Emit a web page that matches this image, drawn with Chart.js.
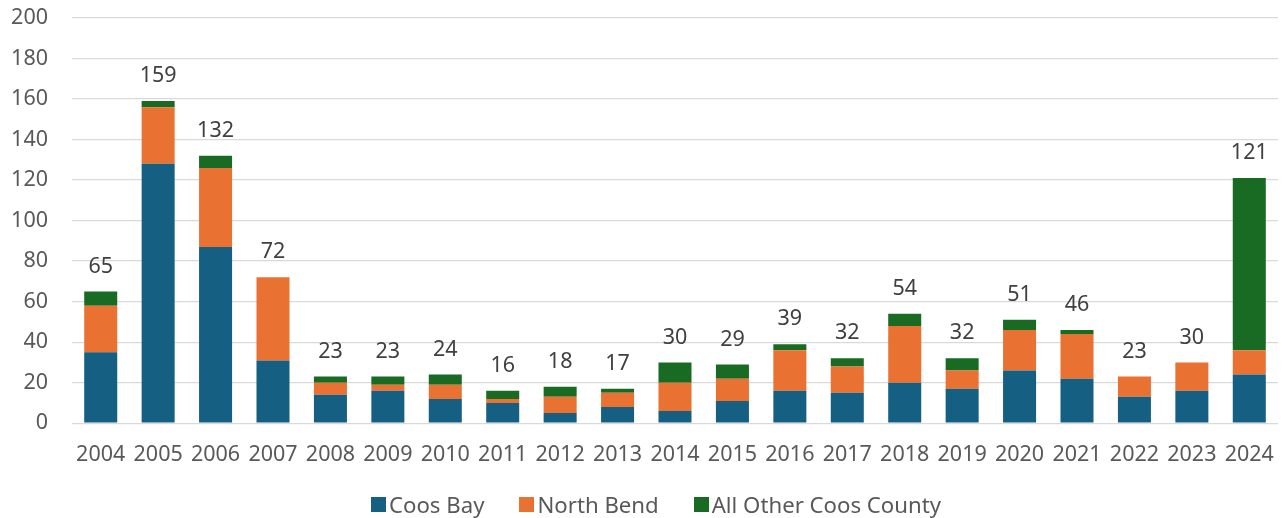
<!DOCTYPE html>
<html>
<head>
<meta charset="utf-8">
<script src="https://cdn.jsdelivr.net/npm/chart.js@4.4.1/dist/chart.umd.min.js"></script>
<style>
  html, body { margin: 0; padding: 0; background: #fff; }
  #wrap { position: relative; width: 1287px; height: 518px; }
  #legend {
    position: absolute; top: 489px; left: 371px;
    display: flex; align-items: center;
    font-family: 'Noto Sans', sans-serif; font-size: 22.2px; color: #595959;
    white-space: nowrap;
  }
  #legend .item { display: flex; align-items: center; margin-right: 35px; }
  #legend .box { width: 15px; height: 15px; margin-right: 3px; }
</style>
</head>
<body>
<div id="wrap">
  <canvas id="chart" width="1287" height="518"></canvas>
  <div id="legend"></div>
</div>
<script>
const years = ['2004', '2005', '2006', '2007', '2008', '2009', '2010', '2011', '2012', '2013', '2014',
  '2015', '2016', '2017', '2018', '2019', '2020', '2021', '2022', '2023', '2024'];
const coosBay    = [35, 128, 87, 31, 14, 16, 12, 10, 5, 8, 6, 11, 16, 15, 20, 17, 26, 22, 13, 16, 24];
const northBend  = [23, 28, 39, 41, 6, 3, 7, 2, 8, 7, 14, 11, 20, 13, 28, 9, 20, 22, 10, 14, 12];
const otherCoos  = [7, 3, 6, 0, 3, 4, 5, 4, 5, 2, 10, 7, 3, 4, 6, 6, 5, 2, 0, 0, 85];
const yTicks = [0, 20, 40, 60, 80, 100, 120, 140, 160, 180, 200];

const FONT = "'Noto Sans', sans-serif";

// totals written above each stacked column
const totalLabels = {
  id: 'totalLabels',
  afterDatasetsDraw(chart) {
    const ctx = chart.ctx;
    const y = chart.scales.y;
    const x = chart.scales.x;
    ctx.save();
    ctx.font = '21.5px ' + FONT;
    ctx.fillStyle = '#404040';
    ctx.textAlign = 'center';
    ctx.textBaseline = 'middle';
    years.forEach((yr, i) => {
      const total = coosBay[i] + northBend[i] + otherCoos[i];
      ctx.fillText(String(total), x.getPixelForValue(i), y.getPixelForValue(total) - 25);
    });
    ctx.restore();
  }
};

const chart = new Chart(document.getElementById('chart'), {
  type: 'bar',
  data: {
    labels: years,
    datasets: [
      { label: 'Coos Bay', data: coosBay, backgroundColor: '#156082' },
      { label: 'North Bend', data: northBend, backgroundColor: '#E97132' },
      { label: 'All Other Coos County', data: otherCoos, backgroundColor: '#196B24' }
    ]
  },
  options: {
    responsive: false,
    animation: false,
    layout: { padding: { top: 18, right: 9, left: 0, bottom: 39 } },
    datasets: { bar: { categoryPercentage: 1, barPercentage: 0.575, borderWidth: 0 } },
    scales: {
      x: {
        stacked: true,
        grid: { display: false },
        border: { display: false },
        ticks: { color: '#595959', font: { family: FONT, size: 21.5 }, padding: 11, maxRotation: 0 }
      },
      y: {
        stacked: true,
        min: 0,
        max: 200,
        afterBuildTicks(axis) { axis.ticks = yTicks.map(v => ({ value: v })); },
        afterFit(axis) { axis.width = 72; },
        // invisible tick marks give the gap between labels and gridlines
        grid: { color: '#D9D9D9', lineWidth: 1.3, drawTicks: true, tickLength: 24, tickColor: 'rgba(0,0,0,0)' },
        border: { display: false },
        ticks: { color: '#595959', font: { family: FONT, size: 21.5 }, padding: 0 }
      }
    },
    plugins: {
      legend: { display: false },
      tooltip: { enabled: false }
    }
  },
  plugins: [totalLabels]
});

// legend row under the axis, one entry per series
const legend = document.getElementById('legend');
chart.data.datasets.forEach(ds => {
  const item = document.createElement('div');
  item.className = 'item';
  const box = document.createElement('span');
  box.className = 'box';
  box.style.background = ds.backgroundColor;
  const text = document.createElement('span');
  text.textContent = ds.label;
  item.appendChild(box);
  item.appendChild(text);
  legend.appendChild(item);
});
</script>
</body>
</html>
